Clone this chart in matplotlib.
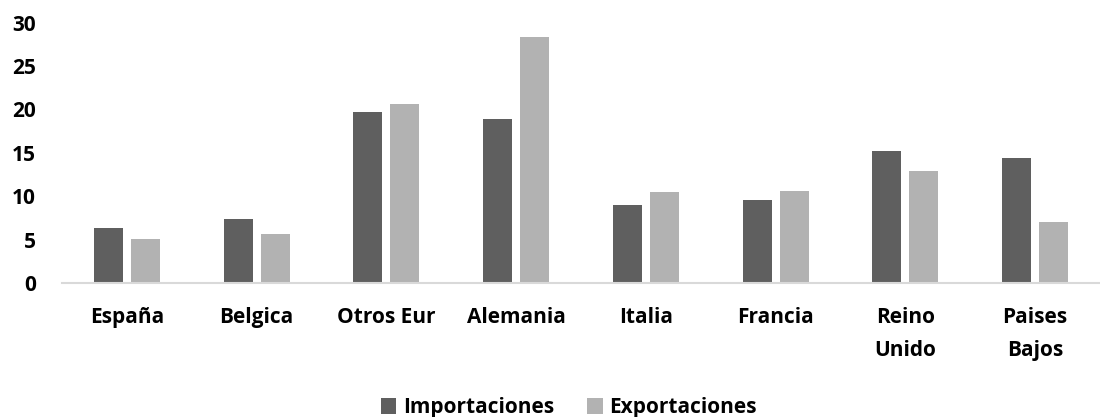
import numpy as np
import matplotlib.pyplot as plt

plt.rcParams['font.family'] = ['Open Sans', 'DejaVu Sans']
plt.rcParams['font.weight'] = 'bold'

paises = ['España', 'Belgica', 'Otros Eur', 'Alemania', 'Italia', 'Francia',
          'Reino\nUnido', 'Paises\nBajos']
importaciones = [6.4, 7.35, 19.65, 18.85, 8.95, 9.55, 15.2, 14.4]
exportaciones = [5.05, 5.6, 20.6, 28.3, 10.45, 10.55, 12.9, 7.0]

c_imp = '#5f5f5f'
c_exp = '#b2b2b2'

fig = plt.figure(figsize=(11, 4.17), dpi=100)
ax = fig.add_axes([0.0564, 0.321, 0.9436, 0.625])

x = np.arange(len(paises))
w = 0.224
ax.bar(x - 0.143, importaciones, w, color=c_imp, label='Importaciones')
ax.bar(x + 0.143, exportaciones, w, color=c_exp, label='Exportaciones')

ax.set_xlim(-0.5, len(paises) - 0.5)
ax.set_ylim(0, 30)
ax.set_yticks(range(0, 31, 5))
ax.set_xticks(x)
ax.set_xticklabels(paises, fontsize=15, fontweight='bold', va='top', linespacing=1.75)
ax.tick_params(axis='y', labelsize=15, length=0, pad=19)
ax.tick_params(axis='x', length=0, pad=17.5)
for lab in ax.get_yticklabels():
    lab.set_fontweight('bold')

for s in ['top', 'right', 'left']:
    ax.spines[s].set_visible(False)
ax.spines['bottom'].set_color('#d9d9d9')
ax.spines['bottom'].set_linewidth(1.5)

leg = fig.legend(loc='center', bbox_to_anchor=(0.517, 0.022), ncol=2, frameon=False,
                 fontsize=15, handlelength=0.75, handleheight=0.75, columnspacing=1.6,
                 handletextpad=0.3)
for t in leg.get_texts():
    t.set_fontweight('bold')

fig.savefig('out.png', dpi=100)
